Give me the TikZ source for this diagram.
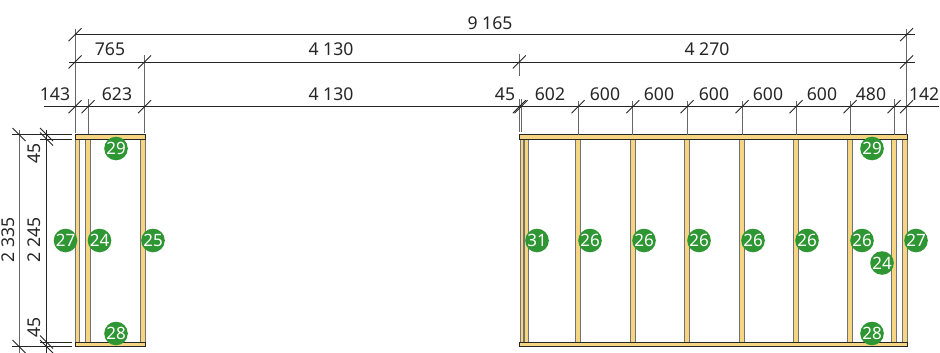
\documentclass[tikz,border=0pt]{standalone}
\usepackage{fontspec}
\setmainfont{Noto Sans}
\definecolor{wood}{HTML}{F5D582}
\definecolor{badge}{HTML}{2E9632}
\begin{document}
\begin{tikzpicture}[x=1pt,y=-1pt,
  dimline/.style={draw=black!85,line width=0.85pt},
  extline/.style={draw=black!60,line width=1pt},
  lumber/.style={fill=wood,draw=black!55,line width=1pt},
  plate/.style={fill=wood,draw=black!85,line width=0.9pt},
  tick/.style={draw=black!85,line width=0.85pt},
  dimtext/.style={font=\fontsize{17.6}{19}\selectfont,text=black!85,inner sep=0pt},
  callout/.style={circle,fill=badge,text=white,minimum size=23.6pt,inner sep=0pt,font=\fontsize{17}{19}\selectfont}]
\useasboundingbox (0,0) rectangle (940,353);
\fill[white] (0,0) rectangle (940,353);
% studs
\foreach \x/\w in {75/4.5,85.5/5,140/5,520/3.8,524/4,575.5/5,630/5,684.5/5,739.5/5,793.5/5,847.5/5,891.7/4.6,902.3/4.7}
  \draw[lumber] (\x,139) rectangle ++(\w,203.5);
% plates
\draw[plate] (75,134.7) rectangle (145,139);
\draw[plate] (75,342.4) rectangle (145,346.6);
\draw[plate] (519.5,134.7) rectangle (907,139);
\draw[plate] (519.5,342.4) rectangle (907,346.6);
% extension lines (vertical)
\foreach \n/\x/\a/\b in {a/75/29/133,b/88/99/134,c/144.5/55/133,d/519.3/54/76,e/519.3/99/132,f/521/99/132,g/578/101/135,h/632.7/101/135,i/687/101/135,j/742/101/135,k/796/101/135,l/850/101/135,m/894/99/135,n/906.5/29/135}{
  \coordinate (v\n1) at (\x,\a); \coordinate (v\n2) at (\x,\b);
  \draw[extline] (v\n1) -- (v\n2);}
% dimension lines (horizontal)
\coordinate (t1) at (75,34.7); \coordinate (t2) at (915,34.7);
\coordinate (m1) at (69,62); \coordinate (m2) at (915,62);
\coordinate (s1) at (44.3,106.7); \coordinate (s2) at (939,106.7);
\draw[dimline] (t1) -- (t2);
\draw[dimline] (m1) -- (m2);
\draw[dimline] (s1) -- (s2);
% slash ticks
\foreach \x/\y in {75/34.7,906.5/34.7,75/62,144.5/62,519.3/62,906.5/62,75/106.7,88/106.7,144.5/106.7,519.3/106.7,521/106.7,578/106.7,632.7/106.7,687/106.7,742/106.7,796/106.7,850/106.7,894/106.7,906.5/106.7}
  \draw[tick] (\x-6.5,\y+6.5) -- (\x+6.5,\y-6.5);
% left vertical dimensions
\coordinate (lo1) at (19,130); \coordinate (lo2) at (19,353);
\coordinate (li1) at (46.5,130); \coordinate (li2) at (46.5,353);
\draw[extline] (lo1) -- (lo2);
\draw[dimline] (li1) -- (li2);
\coordinate (h1a) at (12,134.5); \coordinate (h1b) at (72,134.5);
\coordinate (h2a) at (40,139); \coordinate (h2b) at (72,139);
\coordinate (h3a) at (40,342); \coordinate (h3b) at (72,342);
\coordinate (h4a) at (12,346.5); \coordinate (h4b) at (72,346.5);
\draw[dimline] (h1a) -- (h1b);
\draw[dimline] (h2a) -- (h2b);
\draw[dimline] (h3a) -- (h3b);
\draw[dimline] (h4a) -- (h4b);
\foreach \x/\y in {19/134.5,46.5/134.5,46.5/139,46.5/342,46.5/346.5,19/346.5}
  \draw[tick] (\x-6.5,\y-6.5) -- (\x+6.5,\y+6.5);
% dimension texts
\node[dimtext] (d9165) at (490,23) {9 165};
\node[dimtext] (d765) at (110,49) {765};
\node[dimtext] (d4130a) at (331,49) {4 130};
\node[dimtext] (d4270) at (707,49) {4 270};
\node[dimtext] (d143) at (55,94) {143};
\node[dimtext] (d623) at (117,94) {623};
\node[dimtext] (d4130b) at (331,94) {4 130};
\node[dimtext] (d45t) at (505,94) {45};
\node[dimtext] (d602) at (550,94) {602};
\node[dimtext] (d600a) at (605,94) {600};
\node[dimtext] (d600b) at (659,94) {600};
\node[dimtext] (d600c) at (714,94) {600};
\node[dimtext] (d600d) at (768,94) {600};
\node[dimtext] (d600e) at (822,94) {600};
\node[dimtext] (d480) at (871,94) {480};
\node[dimtext,anchor=east] (d142) at (939.5,94) {142};
\node[dimtext,rotate=90] (d2335) at (8,240) {2 335};
\node[dimtext,rotate=90] (d2245) at (34,240) {2 245};
\node[dimtext,rotate=90] (d45u) at (34,153) {45};
\node[dimtext,rotate=90] (d45l) at (34,327) {45};
% callouts
\node[callout] (c29a) at (116,148.5) {29};
\node[callout] (c27a) at (65.5,240.5) {27};
\node[callout] (c24a) at (99.5,240.5) {24};
\node[callout] (c25) at (153,240.5) {25};
\node[callout] (c28a) at (116,333.5) {28};
\node[callout] (c31) at (537,240.5) {31};
\node[callout] (c26a) at (590,240.5) {26};
\node[callout] (c26b) at (644,240.5) {26};
\node[callout] (c26c) at (699,240.5) {26};
\node[callout] (c26d) at (753,240.5) {26};
\node[callout] (c26e) at (807,240.5) {26};
\node[callout] (c26f) at (862,240.5) {26};
\node[callout] (c24b) at (882,263) {24};
\node[callout] (c27b) at (916,240.5) {27};
\node[callout] (c29b) at (872,148.5) {29};
\node[callout] (c28b) at (872,333.5) {28};
\end{tikzpicture}
\end{document}
